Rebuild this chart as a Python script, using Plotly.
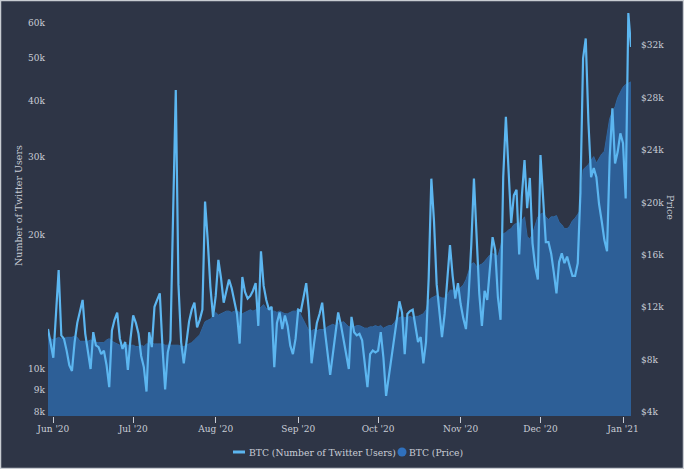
import plotly.graph_objects as go
import pandas as pd

dates = pd.date_range("2020-05-30", periods=220, freq="D")

twitter_users = [
    12300, 11500, 10600, 13300, 16700, 11900, 11700, 11000, 10200, 9900,
    11500, 12700, 13500, 14300, 12000, 10800, 10000, 12100, 11300, 11200,
    10800, 11000, 10200, 9100, 12200, 12900, 13400, 11700, 11100, 11500,
    9950, 11700, 13200, 12700, 12000, 10700, 10100, 8900, 12100, 11200,
    13800, 14300, 14800, 11200, 9000, 10900, 11600, 22400, 42400, 15500,
    11500, 10300, 11600, 12800, 13600, 14100, 12400, 12900, 13600, 23800,
    19500, 15300, 13100, 14600, 17600, 16000, 14100, 15000, 15900, 15200,
    14200, 13300, 11400, 16100, 14900, 14400, 14600, 15000, 15600, 12500,
    18400, 15400, 14300, 13600, 13800, 10100, 12700, 13400, 12300, 13200,
    12500, 11300, 10800, 11700, 13600, 13500, 14500, 15600, 13500, 10300,
    11500, 12700, 13300, 14100, 12200, 11000, 9700, 10800, 12000, 13400,
    12600, 11700, 10900, 10000, 13100, 12100, 11900, 12000, 11600, 10300,
    9100, 10800, 11000, 10900, 11000, 12100, 10600, 8700, 9600, 10500,
    11500, 12900, 14200, 13400, 10800, 13300, 13500, 13600, 12600, 11500,
    11800, 10300, 11500, 16000, 26800, 21500, 15500, 13500, 11800, 13300,
    16000, 19000, 16200, 14400, 15600, 14000, 13000, 12300, 14600, 19000,
    26800, 19500, 14800, 12500, 15000, 14300, 16800, 19800, 18500, 14500,
    12900, 27000, 36900, 28500, 21300, 24600, 25300, 18100, 24500, 29500,
    23000, 26900, 19200, 17000, 15900, 30300, 24000, 19300, 19300, 18200,
    16500, 14800, 17400, 18200, 17300, 17900, 17000, 16200, 16200, 17300,
    25000, 50000, 55400, 36000, 27000, 28300, 27000, 23500, 21500, 19500,
    18400, 30000, 38600, 29000, 30800, 33900, 32200, 24200, 63200, 53000,
]

btc_price = [
    10000, 9600, 9500, 9600, 9700, 9600, 9600, 9700, 9700, 9700,
    9800, 9700, 9400, 9400, 9400, 9400, 9500, 9400, 9300, 9300,
    9300, 9300, 9500, 9600, 9400, 9300, 9200, 9100, 9100, 9200,
    9100, 9100, 9100, 9000, 9000, 9100, 9000, 9200, 9200, 9300,
    9200, 9200, 9200, 9200, 9100, 9100, 9100, 9100, 9100, 9100,
    9000, 9000, 9100, 9200, 9300, 9500, 9700, 9900, 10400, 10900,
    11000, 11100, 11300, 11600, 11400, 11500, 11600, 11700, 11700, 11600,
    11700, 11700, 11600, 11500, 11600, 11700, 11800, 11700, 11800, 11800,
    12000, 12200, 11900, 11900, 11700, 11700, 11600, 11700, 11600, 11500,
    11500, 11600, 11700, 11700, 11900, 11400, 11000, 10500, 10200, 10200,
    10300, 10200, 10300, 10300, 10300, 10500, 10600, 10700, 10600, 10800,
    10800, 10900, 10700, 10500, 10500, 10500, 10600, 10600, 10500, 10400,
    10400, 10500, 10500, 10600, 10500, 10600, 10400, 10500, 10600, 10600,
    10800, 11100, 11200, 11300, 11200, 11200, 11300, 11200, 11300, 11300,
    11400, 11500, 11800, 12500, 12700, 12800, 12900, 12800, 12700, 12700,
    12900, 13300, 13300, 13100, 13300, 13500, 13700, 14100, 14800, 15300,
    15400, 15100, 15200, 15300, 15500, 15800, 16000, 16100, 16000, 15900,
    16600, 17600, 17700, 17900, 18000, 18300, 18400, 18400, 18600, 18900,
    17400, 17200, 17600, 18200, 18900, 19100, 19200, 18900, 18700, 18900,
    18900, 19000, 18500, 18300, 18000, 18000, 18200, 18600, 18800, 19100,
    19400, 22500, 22700, 22900, 23200, 23500, 23000, 23400, 23700, 23900,
    25300, 26400, 26900, 27300, 28000, 28400, 28800, 29000, 29100, 29200,
]

x_tick_vals = ["2020-06-01", "2020-07-01", "2020-08-01", "2020-09-01",
               "2020-10-01", "2020-11-01", "2020-12-01", "2021-01-01"]
x_tick_text = ["Jun '20", "Jul '20", "Aug '20", "Sep '20",
               "Oct '20", "Nov '20", "Dec '20", "Jan '21"]
users_tick_vals = [8000, 9000, 10000, 20000, 30000, 40000, 50000, 60000]
users_tick_text = ["8k", "9k", "10k", "20k", "30k", "40k", "50k", "60k"]
price_tick_vals = [4000, 8000, 12000, 16000, 20000, 24000, 28000, 32000]
price_tick_text = ["$4k", "$8k", "$12k", "$16k", "$20k", "$24k", "$28k", "$32k"]
legend_names = ["BTC (Number of Twitter Users)", "BTC (Price)"]

BG = "#2e3546"
TXT = "#c9cdd6"
LINE = "#5cb6f0"
AREA = "#2d5f97"
DOT = "#2f70bd"
FONT = "DejaVu Serif"

W, H = 684, 469
ML, MR, MT, MB = 48, 53, 10, 53
PW, PH = W - ML - MR, H - MT - MB


def px(x):
    return (x - ML) / PW


def py(y):
    return (MT + PH - y) / PH


fig = go.Figure()

fig.add_trace(go.Scatter(
    x=dates, y=btc_price, name=legend_names[1], yaxis="y",
    mode="lines", line=dict(color="#30669f", width=1),
    fill="tozeroy", fillcolor=AREA, showlegend=False, hoverinfo="skip",
))
fig.add_trace(go.Scatter(
    x=dates, y=twitter_users, name=legend_names[0], yaxis="y2",
    mode="lines", line=dict(color=LINE, width=2.2), showlegend=False,
))

LEG_Y = 452
fig.update_layout(
    width=W, height=H,
    margin=dict(l=ML, r=MR, t=MT, b=MB, pad=0, autoexpand=False),
    paper_bgcolor=BG, plot_bgcolor=BG,
    font=dict(family=FONT, size=9, color=TXT),
    showlegend=False,
    xaxis=dict(
        type="date", range=[dates[0], dates[-1]],
        tickvals=x_tick_vals, ticktext=x_tick_text,
        ticks="outside", ticklen=6, tickcolor=TXT, tickwidth=1,
        showgrid=False, zeroline=False, showline=False,
        tickfont=dict(size=9, color=TXT), ticklabelstandoff=-2,
    ),
    yaxis=dict(
        side="right", range=[3695, 34689],
        tickvals=price_tick_vals, ticktext=price_tick_text,
        showgrid=False, zeroline=False, showline=False,
        tickfont=dict(size=9, color=TXT), ticklabelstandoff=9,
    ),
    yaxis2=dict(
        overlaying="y", side="left", type="log",
        range=[3.8943, 4.8075],
        tickvals=users_tick_vals, ticktext=users_tick_text,
        showgrid=False, zeroline=False, showline=False,
        tickfont=dict(size=9, color=TXT), ticklabelstandoff=2,
    ),
    annotations=[
        dict(text="Number of Twitter Users", xref="paper", yref="paper",
             x=px(18), y=py(206), textangle=-90,
             showarrow=False, font=dict(size=9.5, color=TXT),
             xanchor="center", yanchor="middle"),
        dict(text="Price", xref="paper", yref="paper",
             x=px(671), y=py(207), textangle=90,
             showarrow=False, font=dict(size=9.5, color=TXT),
             xanchor="center", yanchor="middle"),
        dict(text=legend_names[0], xref="paper", yref="paper",
             x=px(247), y=py(LEG_Y), showarrow=False,
             font=dict(size=9.2, color=TXT), xanchor="left", yanchor="middle"),
        dict(text=legend_names[1], xref="paper", yref="paper",
             x=px(407), y=py(LEG_Y), showarrow=False,
             font=dict(size=9.2, color=TXT), xanchor="left", yanchor="middle"),
    ],
    shapes=[
        dict(type="line", xref="paper", yref="paper",
             x0=px(233), x1=px(245), y0=py(LEG_Y), y1=py(LEG_Y),
             line=dict(color=LINE, width=3)),
        dict(type="circle", xref="paper", yref="paper",
             x0=px(397.5), x1=px(406.5), y0=py(LEG_Y + 4.5), y1=py(LEG_Y - 4.5),
             fillcolor=DOT, line=dict(width=0)),
        dict(type="rect", xref="paper", yref="paper",
             x0=px(0.5), x1=px(W - 0.5),
             y0=py(H - 0.5), y1=py(0.5),
             line=dict(color="#c8ccd2", width=1.5), layer="above"),
    ],
)

fig.write_html(
    "out.html",
    config={"displayModeBar": False},
    post_script="document.body.style.margin='0';document.body.style.background='%s';" % BG,
)
